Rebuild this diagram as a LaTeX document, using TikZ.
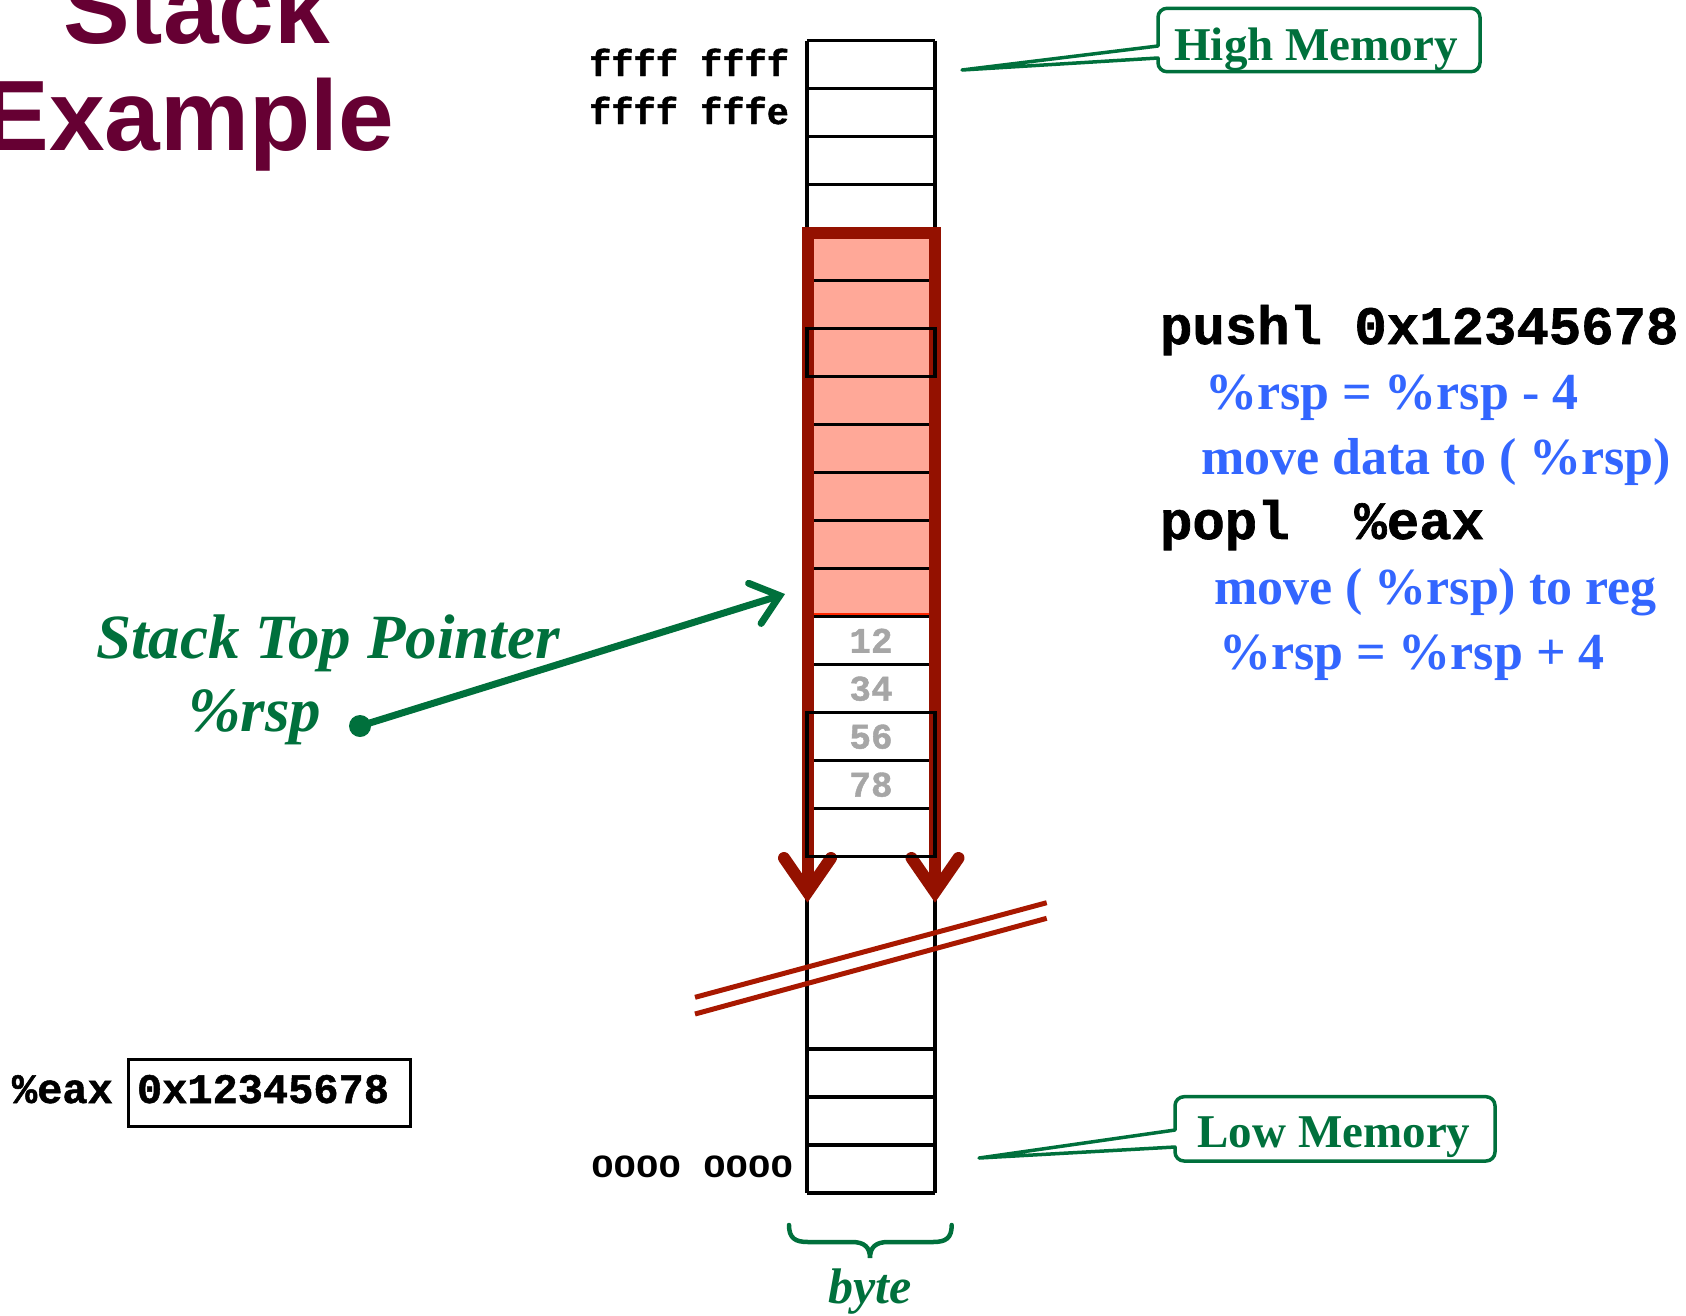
\documentclass[tikz,border=0pt]{standalone}
\usepackage{fontspec}
\setmainfont{Liberation Serif}
\newfontfamily\monof[BoldFeatures={FakeBold=1.2}]{Liberation Mono}
\newfontfamily\sansf{Liberation Sans}
\newfontfamily\widesans[FakeStretch=1.3]{Liberation Sans}
\usetikzlibrary{arrows.meta}
\definecolor{maroonT}{RGB}{102,0,51}
\definecolor{greenT}{RGB}{0,112,60}
\definecolor{blueT}{RGB}{51,102,255}
\definecolor{darkredT}{RGB}{148,17,0}
\definecolor{pinkT}{RGB}{255,168,152}
\definecolor{brightredT}{RGB}{255,40,0}
\definecolor{breakredT}{RGB}{168,24,0}
\definecolor{grayT}{RGB}{166,166,166}
\newcommand{\setfs}[1]{\fontsize{#1}{#1}\selectfont}
\tikzset{
  cellline/.style={line width=3.5pt, black},
  redframe/.style={line width=12pt, darkredT, line join=miter},
  redhead/.style={line width=12pt, darkredT, line join=miter, line cap=round},
  breakline/.style={line width=5pt, breakredT},
  addr/.style={font=\monof\bfseries\setfs{37}, anchor=base east},
  cmd/.style={font=\monof\bfseries\setfs{54}, anchor=base west},
  expl/.style={font=\bfseries\setfs{52}, text=blueT, anchor=base west},
  memlabel/.style={font=\bfseries\setfs{47}, text=greenT, anchor=base},
  callout/.style={line width=3.5pt, greenT, line join=round},
  val/.style={font=\monof\bfseries\setfs{36}, text=grayT, anchor=center},
  titletext/.style={font=\sansf\bfseries\setfs{100}, text=maroonT},
  pointertext/.style={font=\bfseries\itshape\setfs{63}, text=greenT, anchor=base},
}
\begin{document}
\begin{tikzpicture}[x=1pt,y=-1pt,inner sep=0pt,outer sep=0pt]
\useasboundingbox (0,0) rectangle (1686,1315);
\clip (0,0) rectangle (1686,1315);

% title
\node[titletext, anchor=base west] (t1) at (63,43) {Stack};
\node[titletext, anchor=base east] (t2) at (394,150) {Example};

% pink region
\fill[pinkT] (807,232) rectangle (935,617);

% stack column
\draw[cellline] (807,40.7) -- (807,1193);
\draw[cellline] (935,40.7) -- (935,1193);
\foreach \k in {0,...,17} {
  \draw[cellline] (807,{40.7+48*\k}) -- (935,{40.7+48*\k});
}
\foreach \yy in {1049,1097,1145,1193} {
  \draw[cellline] (807,\yy) -- (935,\yy);
}
\draw[line width=2.5pt, brightredT] (813,614.2) -- (929,614.2);

% red frame
\draw[redframe] (807.5,892) -- (807.5,232.5) -- (935,232.5) -- (935,892);
\draw[redhead] (784,858) -- (807.5,892) -- (831,858);
\draw[redhead] (911.5,858) -- (935,892) -- (958.5,858);

% outlined cells
\draw[cellline] (807,328.7) rectangle (935,376.7);
\draw[cellline] (807,712.7) rectangle (935,856.7);

% break lines
\draw[breakline] (695,997.3) -- (1046.7,902.7);
\draw[breakline] (695,1014) -- (1046.7,918.3);

% values
\node[val] (v12) at (871,640.7) {12};
\node[val] (v34) at (871,688.7) {34};
\node[val] (v56) at (871,736.7) {56};
\node[val] (v78) at (871,784.7) {78};

% addresses
\node[addr] (a1) at (789,76) {ffff ffff};
\node[addr] (a2) at (789,124) {ffff fffe};
\node[font=\widesans\bfseries\setfs{31}, anchor=base east] (a0) at (793,1177) {0000~~0000};

% callouts
\draw[callout] (1158,58) -- (962,70) -- (1158,46) [rounded corners=9pt] -- (1158,8.3) -- (1480,8.3) -- (1480,71.7) -- (1158,71.7) [sharp corners] -- cycle;
\node[memlabel] (hm) at (1316,60) {High Memory};
\draw[callout] (1175,1147) -- (979,1158) -- (1175,1130) [rounded corners=9pt] -- (1175,1096.7) -- (1495,1096.7) -- (1495,1161) -- (1175,1161) [sharp corners] -- cycle;
\node[memlabel] (lm) at (1334,1147) {Low Memory};

% instructions
\node[cmd] (c1) at (1160,344) {pushl 0x12345678};
\node[expl] (e1) at (1205,409) {\%rsp = \%rsp - 4};
\node[expl] (e2) at (1201,474) {move data to (\kern12pt\%rsp)};
\node[cmd] (c2) at (1160,539) {popl~~\%eax};
\node[expl] (e3) at (1214,604) {move (\kern12pt\%rsp) to reg};
\node[expl] (e4) at (1219,669) {\%rsp = \%rsp + 4};

% stack top pointer
\node[pointertext] (stp) at (328,658) {Stack Top Pointer};
\node[pointertext] (rsp) at (255,731) {\%rsp};
\node[circle, fill=greenT, minimum size=22pt] (dot) at (360,726) {};
\coordinate (tip) at (785,594);
\draw[line width=7pt, greenT, line cap=round, -{Straight Barb[length=26pt, width=42pt, line cap=round]}] (dot.center) -- (tip);

% eax register
\node[font=\monof\bfseries\setfs{42}, anchor=base west] (eaxl) at (12,1103) {\%eax};
\draw[line width=3pt] (128.3,1059) rectangle (410,1126.7);
\node[font=\monof\bfseries\setfs{42}, anchor=base west] (eaxv) at (137,1103) {0x12345678};

% byte brace
\draw[line width=4.5pt, greenT, line cap=round]
  (789,1225) .. controls (789,1238) and (795,1242) .. (808,1242) -- (852,1242)
  .. controls (864,1242) and (870,1247) .. (870,1258)
  .. controls (870,1247) and (876,1242) .. (888,1242) -- (933,1242)
  .. controls (946,1242) and (951.7,1238) .. (951.7,1225);
\node[font=\bfseries\itshape\setfs{50}, text=greenT, anchor=base] (byte) at (870,1303) {byte};
\end{tikzpicture}
\end{document}
